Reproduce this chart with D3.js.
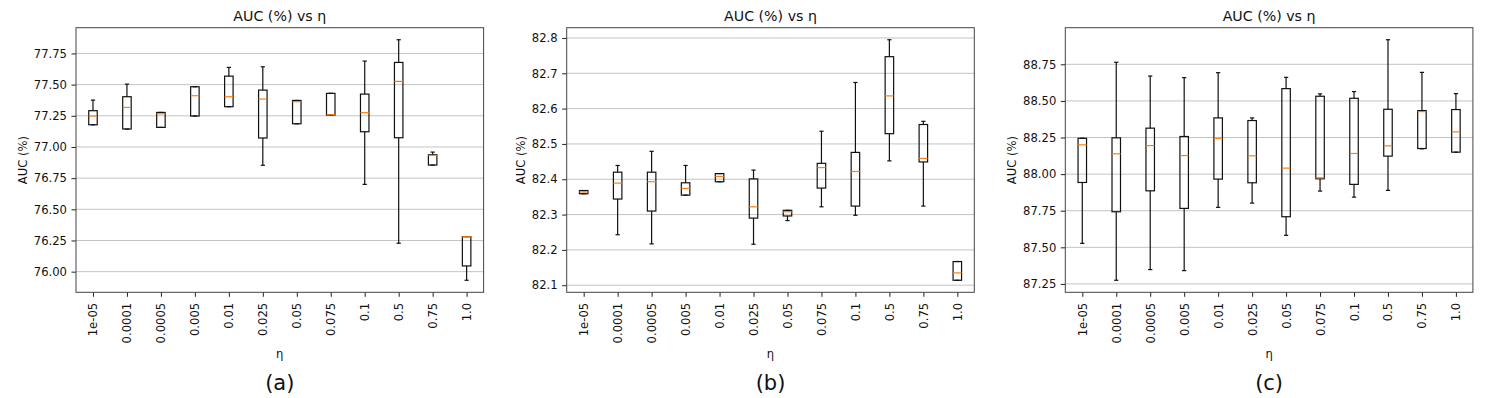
<!DOCTYPE html>
<html><head><meta charset="utf-8">
<script src="https://cdn.jsdelivr.net/npm/d3@7"></script>
<style>
html,body{margin:0;padding:0;background:#fff;}
svg{display:block;}
text{font-family:"DejaVu Sans",sans-serif;fill:#111;}
</style></head>
<body><svg id="chart" width="1494" height="398"></svg>
<script>
const categories = ["1e-05","0.0001","0.0005","0.005","0.01","0.025","0.05","0.075","0.1","0.5","0.75","1.0"];

// Panel (a)
const aLow  = [77.178,77.144,77.157,77.248,77.323,76.853,77.186,77.255,76.700,76.228,76.855,75.931];
const aQ1   = [77.178,77.144,77.157,77.248,77.323,77.072,77.186,77.255,77.122,77.074,76.855,76.046];
const aMed  = [77.248,77.317,77.266,77.411,77.403,77.384,77.363,77.258,77.275,77.526,76.933,76.280];
const aQ3   = [77.291,77.403,77.277,77.483,77.568,77.456,77.373,77.430,77.424,77.678,76.938,76.281];
const aHigh = [77.376,77.504,77.277,77.483,77.638,77.643,77.373,77.430,77.689,77.860,76.959,76.281];
const aTicks = [76.00,76.25,76.50,76.75,77.00,77.25,77.50,77.75];

// Panel (b)
const bLow  = [82.359,82.243,82.217,82.355,82.393,82.216,82.283,82.322,82.298,82.452,82.324,82.114];
const bQ1   = [82.359,82.344,82.310,82.355,82.393,82.290,82.296,82.375,82.324,82.529,82.449,82.114];
const bMed  = [82.364,82.389,82.393,82.374,82.408,82.322,82.308,82.433,82.422,82.636,82.459,82.135];
const bQ3   = [82.368,82.420,82.420,82.390,82.416,82.401,82.312,82.445,82.476,82.747,82.555,82.167];
const bHigh = [82.368,82.439,82.479,82.439,82.416,82.426,82.312,82.536,82.674,82.795,82.564,82.167];
const bTicks = [82.1,82.2,82.3,82.4,82.5,82.6,82.7,82.8];

// Panel (c)
const cLow  = [87.527,87.275,87.348,87.341,87.773,87.802,87.582,87.884,87.843,87.889,88.173,88.150];
const cQ1   = [87.943,87.743,87.886,87.766,87.966,87.941,87.709,87.968,87.930,88.123,88.175,88.150];
const cMed  = [88.200,88.139,88.195,88.127,88.245,88.125,88.041,87.975,88.141,88.193,88.427,88.289];
const cQ3   = [88.245,88.248,88.314,88.257,88.384,88.366,88.584,88.532,88.518,88.443,88.434,88.441];
const cHigh = [88.245,88.764,88.670,88.659,88.693,88.384,88.661,88.548,88.564,88.918,88.695,88.550];
const cTicks = [87.25,87.50,87.75,88.00,88.25,88.50,88.75];

const panels = [
  {low:aLow,q1:aQ1,med:aMed,q3:aQ3,high:aHigh,ticks:aTicks,fmt:".2f",cap:"(a)",left:76},
  {low:bLow,q1:bQ1,med:bMed,q3:bQ3,high:bHigh,ticks:bTicks,fmt:".1f",cap:"(b)",left:566.7},
  {low:cLow,q1:cQ1,med:cMed,q3:cQ3,high:cHigh,ticks:cTicks,fmt:".2f",cap:"(c)",left:1065.3}
];

const svg = d3.select("#chart");
const W = 407.6, plotTop = 27.7, plotBottom = 292.3;
const tickFont = 11.6;

panels.forEach(p => {
  const g = svg.append("g").attr("transform", `translate(${p.left},0)`);
  const x = d3.scaleLinear().domain([0.5, categories.length + 0.5]).range([0, W]);
  const lo = d3.min(p.low), hi = d3.max(p.high), m = (hi - lo) * 0.05;
  const y = d3.scaleLinear().domain([lo - m, hi + m]).range([plotBottom, plotTop]);

  // grid
  g.append("g").selectAll("line").data(p.ticks).join("line")
    .attr("x1", 0).attr("x2", W)
    .attr("y1", d => y(d)).attr("y2", d => y(d))
    .attr("stroke", "#c4c4c4").attr("stroke-width", 1);

  // y axis
  const yAxis = g.append("g")
    .call(d3.axisLeft(y).tickValues(p.ticks).tickFormat(d3.format(p.fmt)).tickSize(4.5).tickPadding(4.5));
  yAxis.select(".domain").remove();
  yAxis.selectAll("line").attr("stroke", "#222").attr("stroke-width", 1);
  yAxis.selectAll("text").attr("font-size", tickFont).attr("font-family", "DejaVu Sans").attr("fill", "#111");

  // x axis
  const xAxis = g.append("g").attr("transform", `translate(0,${plotBottom})`)
    .call(d3.axisBottom(x).tickValues(d3.range(1, categories.length + 1))
      .tickFormat(i => categories[i - 1]).tickSize(4.5).tickPadding(4.5));
  xAxis.select(".domain").remove();
  xAxis.selectAll("line").attr("stroke", "#222").attr("stroke-width", 1);
  xAxis.selectAll("text")
    .attr("font-size", tickFont).attr("font-family", "DejaVu Sans").attr("fill", "#111")
    .attr("text-anchor", "end").attr("dy", null).attr("y", 0)
    .attr("dominant-baseline", "central")
    .attr("transform", "translate(0,10.5) rotate(-90)");

  // boxes
  const idx = d3.range(categories.length);
  const bw = x(1.25) - x(1), cw = x(1.125) - x(1);
  const bx = g.append("g");
  const stroke = "#111", sw = 1.2;
  bx.selectAll(".wl").data(idx).join("line")
    .attr("x1", i => x(i + 1)).attr("x2", i => x(i + 1))
    .attr("y1", i => y(p.q1[i])).attr("y2", i => y(p.low[i]))
    .attr("stroke", stroke).attr("stroke-width", sw);
  bx.selectAll(".wh").data(idx).join("line")
    .attr("x1", i => x(i + 1)).attr("x2", i => x(i + 1))
    .attr("y1", i => y(p.q3[i])).attr("y2", i => y(p.high[i]))
    .attr("stroke", stroke).attr("stroke-width", sw);
  bx.selectAll(".cl").data(idx).join("line")
    .attr("x1", i => x(i + 1) - cw / 2).attr("x2", i => x(i + 1) + cw / 2)
    .attr("y1", i => y(p.low[i])).attr("y2", i => y(p.low[i]))
    .attr("stroke", stroke).attr("stroke-width", sw);
  bx.selectAll(".ch").data(idx).join("line")
    .attr("x1", i => x(i + 1) - cw / 2).attr("x2", i => x(i + 1) + cw / 2)
    .attr("y1", i => y(p.high[i])).attr("y2", i => y(p.high[i]))
    .attr("stroke", stroke).attr("stroke-width", sw);
  bx.selectAll(".bx").data(idx).join("rect")
    .attr("x", i => x(i + 1) - bw / 2).attr("width", bw)
    .attr("y", i => y(p.q3[i])).attr("height", i => Math.max(0.01, y(p.q1[i]) - y(p.q3[i])))
    .attr("fill", "none").attr("stroke", stroke).attr("stroke-width", sw);
  bx.selectAll(".md").data(idx).join("line")
    .attr("x1", i => x(i + 1) - bw / 2).attr("x2", i => x(i + 1) + bw / 2)
    .attr("y1", i => y(p.med[i])).attr("y2", i => y(p.med[i]))
    .attr("stroke", "#ff7f0e").attr("stroke-width", 1.2);

  // frame
  g.append("rect").attr("x", 0).attr("y", plotTop).attr("width", W).attr("height", plotBottom - plotTop)
    .attr("fill", "none").attr("stroke", "#444").attr("stroke-width", 1);

  // title
  g.append("text").attr("x", W / 2).attr("y", 20.5).attr("text-anchor", "middle")
    .attr("font-size", 14.2).text("AUC (%) vs η");

  // y label
  const bb = yAxis.node().getBBox();
  const ylx = bb.x - 5 - 6;
  g.append("text").attr("transform", `translate(${ylx},${(plotTop + plotBottom) / 2}) rotate(-90)`)
    .attr("text-anchor", "middle").attr("dominant-baseline", "central")
    .attr("font-size", tickFont).text("AUC (%)");

  // x label
  g.append("text").attr("x", W / 2).attr("y", 357.5).attr("text-anchor", "middle")
    .attr("font-size", tickFont).text("η");

  // caption
  g.append("text").attr("x", W / 2).attr("y", 390).attr("text-anchor", "middle")
    .attr("font-family", "Liberation Sans, Arial, sans-serif").attr("font-size", 21).text(p.cap);
});
</script></body></html>
